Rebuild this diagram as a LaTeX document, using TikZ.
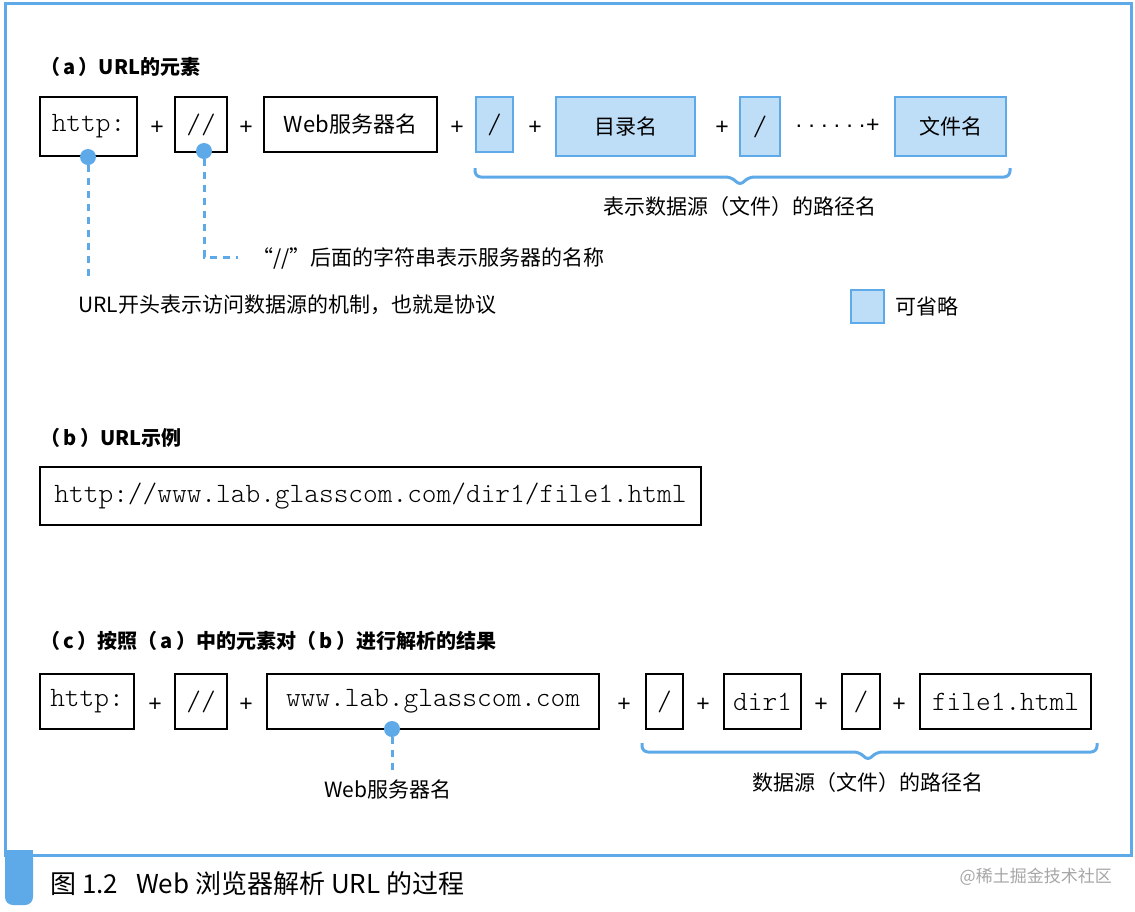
\documentclass[tikz,border=0pt]{standalone}
\usepackage{fontspec}
\setmainfont{Liberation Sans}
\newfontfamily\cjk{Noto Sans CJK SC}
\newfontfamily\monof{Latin Modern Mono Light}
\definecolor{lb}{HTML}{5EA9E8}
\definecolor{fb}{HTML}{BEDDF6}
\begin{document}
\begin{tikzpicture}[x=1pt,y=-1pt,
  txt/.style={font=\cjk\fontsize{21}{24}\selectfont,inner sep=0pt},
  ttl/.style={font=\cjk\bfseries\fontsize{20}{24}\selectfont,inner sep=0pt,anchor=west},
  pl/.style={font=\rmfamily\fontsize{23}{24}\selectfont,inner sep=0pt},
  bx/.style={draw,line width=1.2pt,inner sep=0pt},
  obx/.style={draw=lb,fill=fb,line width=1.2pt,inner sep=0pt},
  mono/.style={font=\monof\fontsize{28}{30}\selectfont},
  dot/.style={circle,fill=lb,inner sep=0pt,minimum size=16pt},
  dsh/.style={draw=lb,line width=3pt,dash pattern=on 7pt off 6pt},
  brc/.style={draw=lb,line width=3pt,rounded corners=6pt}]
\useasboundingbox (0,0) rectangle (1135,911);
\draw[lb,line width=3pt] (5,3) rectangle (1131,855);
\fill[lb,rounded corners=8pt] (5,850) rectangle (33,905);
\fill[lb] (5,850) rectangle (33,870);
\node[anchor=west,inner sep=0pt,font=\cjk\fontsize{26}{28}\selectfont] (cap) at (50,884) {图 1.2\hspace{18pt}Web 浏览器解析 URL 的过程};
\node[anchor=east,inner sep=0pt,text=gray!70,font=\cjk\fontsize{17}{20}\selectfont] (wm) at (1112,877) {@稀土掘金技术社区};
% (a)
\node[ttl] (ta) at (40,67) {（\,a\,）URL的元素};
\node[bx,minimum width=97pt,minimum height=59pt,mono] (a1) at (88.5,126.5) {http:};
\node[bx,minimum width=52pt,minimum height=55pt,mono] (a2) at (201,124.5) {//};
\node[bx,minimum width=173pt,minimum height=55pt,font=\cjk\fontsize{22}{24}\selectfont] (a3) at (350.5,124.5) {Web服务器名};
\node[obx,minimum width=37pt,minimum height=55pt,mono] (a4) at (494.5,124.5) {/};
\node[obx,minimum width=139pt,minimum height=59pt,txt] (a5) at (625.5,126.5) {目录名};
\node[obx,minimum width=40pt,minimum height=59pt,mono] (a6) at (760,126.5) {/};
\node[obx,minimum width=111pt,minimum height=59pt,txt] (a7) at (950.5,126.5) {文件名};
\foreach \x/\n in {157/p1,246/p2,457/p3,535/p4,722/p5} \node[pl] (\n) at (\x,128) {+};
\node[pl,anchor=west] (p6) at (795,126) {\foreach \i in {1,...,6}{\textperiodcentered\hspace{5pt}}\hspace{-5pt}+};
\draw[brc] (475,168)--(475,177)--(732,177)--(740,186)--(748,177)--(1010,177)--(1010,168);
\node[txt] (la) at (740,207) {表示数据源（文件）的路径名};
\node[dot] (d1) at (88,157) {};
\node[dot] (d2) at (204,151) {};
\coordinate (e1) at (88,282);
\coordinate (c2) at (204,257);
\coordinate (e2) at (238,257);
\draw[dsh] (d1) -- (e1);
\draw[dsh] (d2) -- (c2) -- (e2);
\node[txt,anchor=west] (l2) at (252,258) {“//”后面的字符串表示服务器的名称};
\node[txt,anchor=west] (l1) at (78,305) {URL开头表示访问数据源的机制，也就是协议};
\node[obx,minimum width=33pt,minimum height=33pt] (leg) at (867.5,306.5) {};
\node[txt,anchor=west] (legt) at (895,306) {可省略};
% (b)
\node[ttl] (tb) at (40,438) {（\,b\,）URL示例};
\node[bx,minimum width=661pt,minimum height=58pt,mono] (b1) at (370.5,496) {http://www.lab.glasscom.com/dir1/file1.html};
% (c)
\node[ttl] (tc) at (40,641) {（\,c\,）按照（\,a\,）中的元素对（\,b\,）进行解析的结果};
\node[bx,minimum width=94pt,minimum height=55pt,mono] (c1) at (87,701.5) {http:};
\node[bx,minimum width=52pt,minimum height=55pt,mono] (cc2) at (201,701.5) {//};
\node[bx,minimum width=332pt,minimum height=55pt,mono] (c3) at (433,701.5) {www.lab.glasscom.com};
\node[bx,minimum width=37pt,minimum height=55pt,mono] (c4) at (664.5,701.5) {/};
\node[bx,minimum width=77pt,minimum height=55pt,mono] (c5) at (762.5,701.5) {dir1};
\node[bx,minimum width=38pt,minimum height=55pt,mono] (c6) at (861,701.5) {/};
\node[bx,minimum width=171pt,minimum height=55pt,mono] (c7) at (1005.5,701.5) {file1.html};
\foreach \x/\n in {155/q1,246/q2,624/q3,703/q4,821/q5,899/q6} \node[pl] (\n) at (\x,705) {+};
\node[dot] (d3) at (392,729) {};
\coordinate (e3) at (392,770);
\draw[dsh] (d3) -- (e3);
\node[txt] (l3) at (388,789) {Web服务器名};
\draw[brc] (642,743)--(642,752)--(860,752)--(868,761)--(876,752)--(1097,752)--(1097,743);
\node[txt] (l4) at (868,783) {数据源（文件）的路径名};
\end{tikzpicture}
\end{document}
